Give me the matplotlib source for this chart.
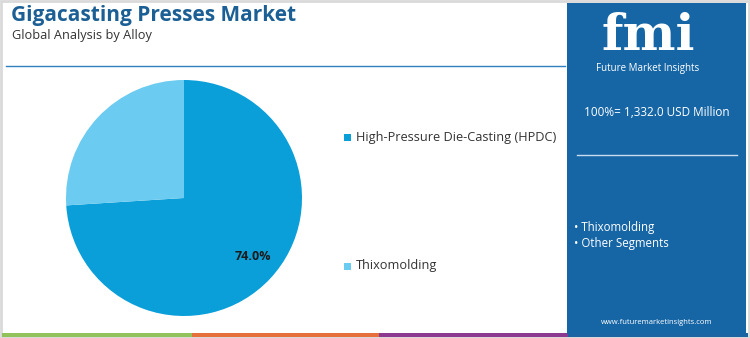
import matplotlib
matplotlib.use("Agg")
import matplotlib.pyplot as plt
from matplotlib.patches import Rectangle

# Data
segments = ["High-Pressure Die-Casting (HPDC)", "Thixomolding"]
shares = [74.0, 26.0]
colors = ["#0a9fd9", "#6ccbf0"]
total_label = "100%= 1,332.0 USD Million"
panel_bullets = ["Thixomolding", "Other Segments"]

W, H = 750, 338
fig = plt.figure(figsize=(W / 100, H / 100), dpi=100)
fig.patch.set_facecolor("white")

bg = fig.add_axes([0, 0, 1, 1])
bg.set_xlim(0, W)
bg.set_ylim(H, 0)
bg.axis("off")

# outer frame
bg.add_patch(Rectangle((1, 1), W - 2, H - 2, fill=False, ec="#d9d9d9", lw=2))

# title
bg.text(11, 16, "Gigacasting Presses Market", fontsize=15, fontweight="bold",
        color="#1b5f94", family="Open Sans", va="center", ha="left")
bg.text(12, 36, "Global Analysis by Alloy", fontsize=9.2, color="#333333",
        family="Open Sans", va="center", ha="left")
bg.plot([6, 565], [66, 66], color="#2f7fc1", lw=1)

# bottom strip
strip = [("#92c25a", 2, 192), ("#e5703b", 192, 379), ("#8b3a8f", 379, 568), ("#1a64a4", 568, 748)]
for c, x0, x1 in strip:
    bg.add_patch(Rectangle((x0, 333), x1 - x0, 4, color=c, lw=0))

# right panel
bg.add_patch(Rectangle((567, 3), 179, 331, color="#1666a6", lw=0))
bg.text(648, 37, "fmi", fontsize=36, fontweight="bold", color="white",
        family="DejaVu Serif", ha="center", va="center")
bg.text(648, 69, "Future Market Insights", fontsize=7, color="white",
        family="Open Sans", ha="center", va="center")
bg.text(657, 113, total_label, fontsize=8.5, color="white",
        family="Open Sans", ha="center", va="center")
bg.plot([577, 737], [155, 155], color="#c8dcee", lw=1)
for i, b in enumerate(panel_bullets):
    bg.text(574, 228 + i * 15, "\u2022 " + b, fontsize=8.3, color="white",
            family="Open Sans", ha="left", va="center")
bg.text(657, 323, "www.futuremarketinsights.com", fontsize=5.5, color="white",
        family="Open Sans", ha="center", va="center")

# pie
cx, cy, r = 184, 198, 118
ax = fig.add_axes([(cx - r) / W, 1 - (cy + r) / H, 2 * r / W, 2 * r / H])
ax.pie(shares, colors=colors, startangle=90, counterclock=False,
       wedgeprops=dict(linewidth=0))
ax.set_aspect("auto")
ax.set_xlim(-1, 1)
ax.set_ylim(-1, 1)
# label inside the large slice (in pie-axes coordinates)
ax.text((253 - cx) / r, -(256 - cy) / r, f"{shares[0]:.1f}%", fontsize=9,
        fontweight="bold", color="#1a1a1a", family="Open Sans",
        ha="center", va="center")

# legend
ly = [137, 266]
for c, s, y in zip(colors, segments, ly):
    bg.add_patch(Rectangle((344, y - 3.5), 7, 7, color=c, lw=0))
    bg.text(356, y, s, fontsize=9.2, color="#333333", family="Open Sans",
            ha="left", va="center")

fig.savefig("out.png", dpi=100, facecolor="white")
